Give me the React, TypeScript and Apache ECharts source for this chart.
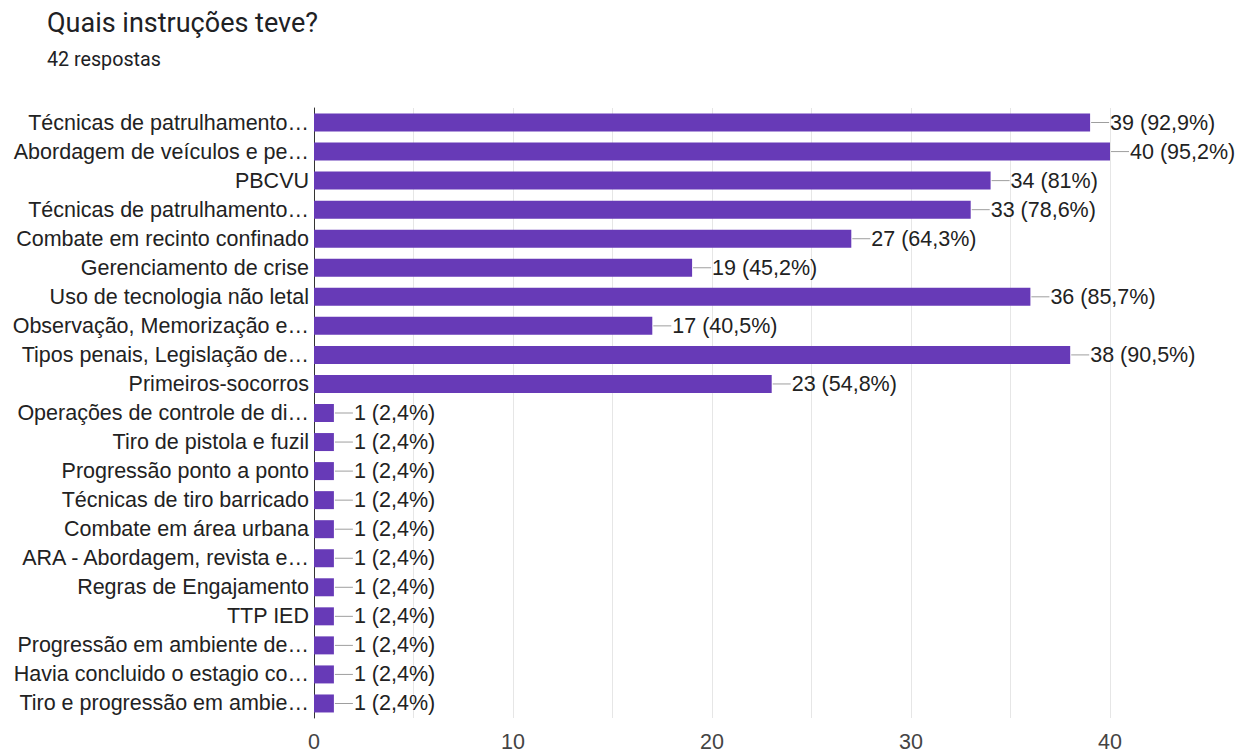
import React, { useEffect, useRef } from "react";
import * as echarts from "echarts";

const titleText = "Quais instruções teve?";
const subtitleText = "42 respostas";
const totalResponses = 42;

const categories = [
  "Técnicas de patrulhamento…",
  "Abordagem de veículos e pe…",
  "PBCVU",
  "Técnicas de patrulhamento…",
  "Combate em recinto confinado",
  "Gerenciamento de crise",
  "Uso de tecnologia não letal",
  "Observação, Memorização e…",
  "Tipos penais, Legislação de…",
  "Primeiros-socorros",
  "Operações de controle de di…",
  "Tiro de pistola e fuzil",
  "Progressão ponto a ponto",
  "Técnicas de tiro barricado",
  "Combate em área urbana",
  "ARA - Abordagem, revista e…",
  "Regras de Engajamento",
  "TTP IED",
  "Progressão em ambiente de…",
  "Havia concluido o estagio co…",
  "Tiro e progressão em ambie…",
];

const values = [39, 40, 34, 33, 27, 19, 36, 17, 38, 23, 1, 1, 1, 1, 1, 1, 1, 1, 1, 1, 1];

const xTicks = [0, 10, 20, 30, 40];

function pct(v: number): string {
  let s = ((v / totalResponses) * 100).toFixed(1);
  if (s.endsWith(".0")) s = s.slice(0, -2);
  return s.replace(".", ",");
}

export default function App() {
  const ref = useRef<HTMLDivElement>(null);
  useEffect(() => {
    if (!ref.current) return;
    const chart = echarts.init(ref.current, undefined, { renderer: "svg" });
    const font = "'Liberation Sans', Arial, sans-serif";
    chart.setOption({
      animation: false,
      backgroundColor: "#ffffff",
      title: [
        {
          text: titleText,
          left: 42,
          top: 4,
          textStyle: {
            fontFamily: "Roboto, sans-serif",
            fontSize: 27,
            fontWeight: "normal",
            color: "#202124",
          },
        },
        {
          text: subtitleText,
          left: 42,
          top: 44,
          textStyle: {
            fontFamily: "Roboto, sans-serif",
            fontSize: 19.7,
            fontWeight: "normal",
            color: "#202124",
          },
        },
      ],
      grid: { left: 314, right: 126, top: 108, bottom: 33, containLabel: false },
      xAxis: {
        type: "value",
        min: 0,
        max: 40,
        interval: 5,
        axisLine: { show: false },
        axisTick: { show: false },
        splitLine: { show: true, lineStyle: { color: "#e6e6e6", width: 1 } },
        axisLabel: {
          margin: 13,
          fontFamily: font,
          fontSize: 21.5,
          color: "#444444",
          formatter: (v: number) => (xTicks.includes(v) ? String(v) : ""),
        },
      },
      yAxis: {
        type: "category",
        data: categories,
        inverse: true,
        axisTick: { show: false },
        axisLine: { show: true, lineStyle: { color: "#333333", width: 1 } },
        axisLabel: {
          margin: 5,
          fontFamily: font,
          fontSize: 21.5,
          color: "#222222",
        },
      },
      series: [
        {
          type: "bar",
          data: values,
          barWidth: 18,
          itemStyle: { color: "#673ab7" },
          label: {
            show: true,
            position: "right",
            distance: 1,
            formatter: (p: any) => `{l|}{t|${p.value} (${pct(p.value)}%)}`,
            rich: {
              l: {
                width: 18,
                height: 1,
                backgroundColor: "#9e9e9e",
                verticalAlign: "middle",
              },
              t: {
                fontFamily: font,
                fontSize: 21.5,
                color: "#222222",
                verticalAlign: "middle",
                padding: [0, 0, 0, 1],
              },
            },
          },
        },
      ],
    });
    return () => chart.dispose();
  }, []);
  return (
    <div
      ref={ref}
      style={{ position: "fixed", left: 0, top: 0, width: 1236, height: 753 }}
    />
  );
}
